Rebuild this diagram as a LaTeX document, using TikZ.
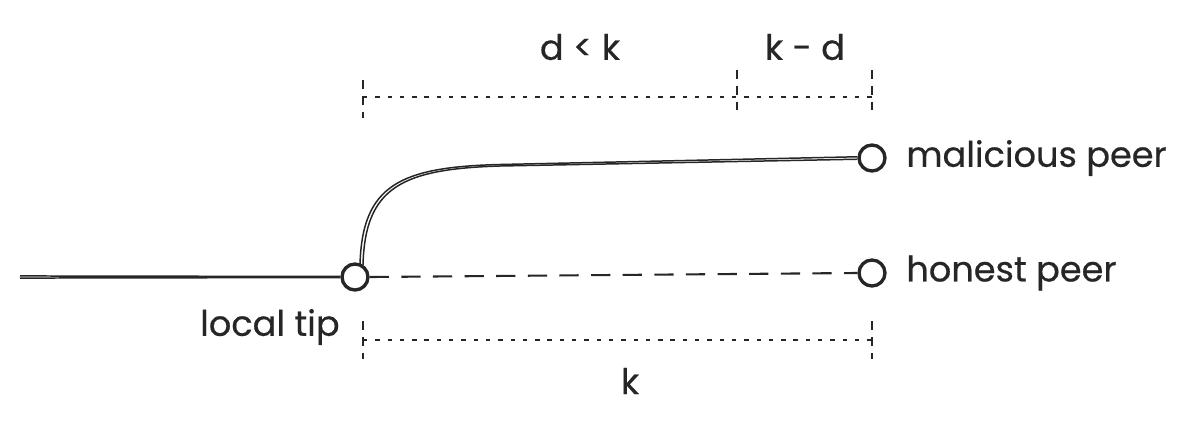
\documentclass[tikz,border=0pt]{standalone}
\usepackage{fontspec}
\setmainfont{Poppins}[FakeBold=0.5]
\begin{document}
\begin{tikzpicture}[x=0.02cm,y=-0.02cm,
  ink/.style={draw=black!85},
  peer/.style={circle,ink,line width=1.9pt,minimum size=0.52cm,inner sep=0pt,fill=white},
  sketch/.style={ink,line width=0.85pt},
  dimline/.style={ink,line width=1.1pt,dash pattern=on 2.5pt off 4.5pt},
  tick/.style={ink,line width=1.1pt,dash pattern=on 5pt off 4pt},
  chain/.style={ink,line width=1.2pt,dash pattern=on 11pt off 7pt},
  lbl/.style={font=\fontsize{20pt}{23pt}\selectfont,text=black!85,inner sep=0pt}
]
\useasboundingbox (0,0) rectangle (1188,427);
% nodes
\node[peer] (tip) at (355,277) {};
\node[peer] (hon) at (872,273) {};
\node[peer] (mal) at (872,158) {};
\coordinate (start) at (20,277);
% connectors
\draw[chain] (tip.east) -- (hon.west);
\draw[sketch] ([yshift=0.6pt]start) -- ([yshift=0.3pt]tip.west);
\draw[sketch] ([yshift=-0.6pt]start) -- ([yshift=-0.3pt]tip.west);
\draw[sketch] (360,265) .. controls (362,185) and (400,167) .. (500,164.5) -- ([yshift=0.7pt]mal.west);
\draw[sketch] (363,265) .. controls (365,187) and (402,169) .. (500,166) -- ([yshift=-0.7pt]mal.west);
% top dimension
\coordinate (tl) at (363,97);
\coordinate (tm) at (737,97);
\coordinate (tr) at (872,97);
\draw[dimline] (tl) -- (tm) -- (tr);
\draw[tick] (363,80) -- (363,118);
\draw[tick] (737,70) -- (737,110);
\draw[tick] (872,70) -- (872,110);
% bottom dimension
\coordinate (bl) at (363,340);
\coordinate (br) at (872,340);
\draw[dimline] (bl) -- (br);
\draw[tick] (363,321) -- (363,359);
\draw[tick] (872,321) -- (872,359);
% labels
\node[lbl] (dk) at (580,47) {d < k};
\node[lbl] (kd) at (805,47) {k - d};
\node[lbl] (k) at (630,381) {k};
\node[lbl,anchor=east] (lt) at (340,327) {local tip};
\node[lbl,anchor=west] (ml) at (906,158) {malicious peer};
\node[lbl,anchor=west] (hl) at (906,273) {honest peer};
\end{tikzpicture}
\end{document}
